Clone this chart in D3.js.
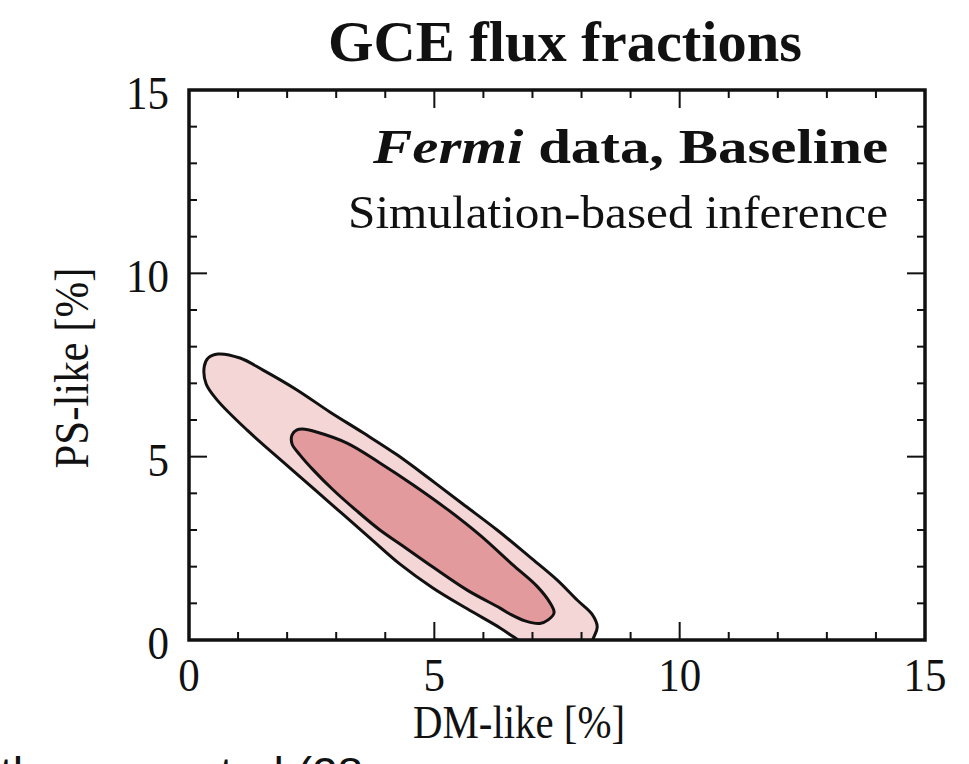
<!DOCTYPE html>
<html>
<head>
<meta charset="utf-8">
<script src="https://cdn.jsdelivr.net/npm/d3@7"></script>
<style>
  html, body { margin: 0; padding: 0; background: #ffffff; }
  svg { display: block; }
</style>
</head>
<body>
<svg id="chart" width="969" height="764"></svg>
<script>
// ---- data -------------------------------------------------------------
const xDomain = [0, 15];
const yDomain = [0, 15];
const majorTicks = [0, 5, 10, 15];
const minorTicks = [1, 2, 3, 4, 6, 7, 8, 9, 11, 12, 13, 14];

// Credible-region outlines, [DM-like %, PS-like %]; the outer one dips
// below zero and is cut by the plot frame.
const outerRegion = [
  [0.59, 7.80], [1.04, 7.69], [1.51, 7.36], [2.20, 6.82], [2.87, 6.22],
  [3.55, 5.65], [4.24, 5.05], [4.91, 4.39], [5.58, 3.71], [6.28, 3.00],
  [6.95, 2.26], [7.50, 1.64], [7.91, 1.09], [8.21, 0.71], [8.32, 0.36],
  [8.25, 0.08], [8.07, -0.33], [7.50, -0.45], [6.95, -0.20], [6.62, 0.08],
  [6.34, 0.33], [5.67, 0.85], [4.97, 1.42], [4.30, 2.07], [3.69, 2.78],
  [2.87, 3.74], [2.06, 4.69], [1.18, 5.73], [0.57, 6.55], [0.35, 6.98],
  [0.31, 7.45], [0.39, 7.69]
];
const innerRegion = [
  [2.36, 5.75], [2.53, 5.70], [3.22, 5.37], [3.89, 4.83], [4.57, 4.23],
  [5.26, 3.57], [5.93, 2.86], [6.60, 2.05], [7.09, 1.47], [7.36, 1.01],
  [7.44, 0.74], [7.32, 0.55], [7.15, 0.45], [6.85, 0.52], [6.54, 0.71],
  [6.34, 0.87], [5.67, 1.36], [4.97, 1.99], [4.30, 2.62], [3.89, 3.00],
  [3.42, 3.52], [2.94, 4.09], [2.53, 4.64], [2.26, 5.05], [2.10, 5.35],
  [2.10, 5.59], [2.20, 5.73]
];

const titleText = "GCE flux fractions";
const xLabel = "DM-like [%]";
const yLabel = "PS-like [%]";
const captionText = "the generated (28";

// ---- layout -----------------------------------------------------------
const plot = { left: 189, right: 925, top: 90, bottom: 640 };
const serif = "'Liberation Serif', 'Times New Roman', serif";
const ink = "#111";

const svg = d3.select("#chart");

const x = d3.scaleLinear().domain(xDomain).range([plot.left, plot.right]);
const y = d3.scaleLinear().domain(yDomain).range([plot.bottom, plot.top]);

svg.append("defs").append("clipPath").attr("id", "plot-clip")
  .append("rect")
  .attr("x", plot.left).attr("y", plot.top)
  .attr("width", plot.right - plot.left).attr("height", plot.bottom - plot.top);

// ---- credible regions -------------------------------------------------
const outline = d3.line()
  .x(d => x(d[0]))
  .y(d => y(d[1]))
  .curve(d3.curveCatmullRomClosed.alpha(0.5));

const regions = svg.append("g").attr("clip-path", "url(#plot-clip)");
regions.append("path")
  .attr("d", outline(outerRegion))
  .attr("fill", "#f5d6d7")
  .attr("stroke", ink)
  .attr("stroke-width", 3)
  .attr("stroke-linejoin", "round");
regions.append("path")
  .attr("d", outline(innerRegion))
  .attr("fill", "#e39a9c")
  .attr("stroke", ink)
  .attr("stroke-width", 3)
  .attr("stroke-linejoin", "round");

// ---- ticks pointing into the plot on all four sides --------------------
const tickSets = [
  { values: minorTicks, len: 8 },
  { values: majorTicks, len: 18 }
];
const ticks = svg.append("g").attr("stroke", ink).attr("stroke-width", 2);
tickSets.forEach(set => {
  set.values.forEach(v => {
    // bottom & top
    ticks.append("line").attr("x1", x(v)).attr("x2", x(v))
      .attr("y1", plot.bottom).attr("y2", plot.bottom - set.len);
    ticks.append("line").attr("x1", x(v)).attr("x2", x(v))
      .attr("y1", plot.top).attr("y2", plot.top + set.len);
    // left & right
    ticks.append("line").attr("y1", y(v)).attr("y2", y(v))
      .attr("x1", plot.left).attr("x2", plot.left + set.len);
    ticks.append("line").attr("y1", y(v)).attr("y2", y(v))
      .attr("x1", plot.right).attr("x2", plot.right - set.len);
  });
});

// frame
svg.append("rect")
  .attr("x", plot.left).attr("y", plot.top)
  .attr("width", plot.right - plot.left).attr("height", plot.bottom - plot.top)
  .attr("fill", "none").attr("stroke", ink).attr("stroke-width", 3.5);

// ---- text helper ------------------------------------------------------
function label(px, py, text, opts) {
  const o = Object.assign({ size: 43, sy: 1.1, anchor: "middle", weight: "normal", rotate: 0 }, opts || {});
  const t = svg.append("text")
    .attr("transform", `translate(${px},${py}) rotate(${o.rotate}) scale(1,${o.sy})`)
    .attr("text-anchor", o.anchor)
    .attr("font-family", o.family || serif)
    .attr("font-size", o.size)
    .attr("font-weight", o.weight)
    .attr("fill", ink)
    .text(text);
  if (o.length) t.attr("textLength", o.length).attr("lengthAdjust", "spacingAndGlyphs");
  return t;
}

// tick labels
majorTicks.forEach(v => label(x(v), 691, String(v)));
majorTicks.forEach(v => label(169, y(v) + 19, String(v), { anchor: "end" }));

// axis titles
label(519, 738, xLabel, { size: 41, sy: 1.12, length: 212 });
label(88, 368, yLabel, { size: 48, sy: 1.0, rotate: -90, length: 201 });

// title
label(565, 61, titleText, { size: 56, sy: 1.0, weight: "bold", length: 474 });

// in-plot annotations
const ann = svg.append("text")
  .attr("transform", "translate(888,163)")
  .attr("text-anchor", "end")
  .attr("font-family", serif)
  .attr("font-size", 49)
  .attr("font-weight", "bold")
  .attr("fill", ink)
  .attr("textLength", 515)
  .attr("lengthAdjust", "spacingAndGlyphs");
ann.append("tspan").attr("font-style", "italic").text("Fermi");
ann.append("tspan").text(" data, Baseline");

label(888, 228, "Simulation-based inference", { size: 47, sy: 1.0, anchor: "end", length: 540 });

// caption line that runs off the bottom edge
svg.append("text")
  .attr("x", 0).attr("y", 790)
  .attr("font-family", "'Liberation Sans', Arial, sans-serif")
  .attr("font-size", 46)
  .attr("fill", ink)
  .text(captionText);
</script>
</body>
</html>
